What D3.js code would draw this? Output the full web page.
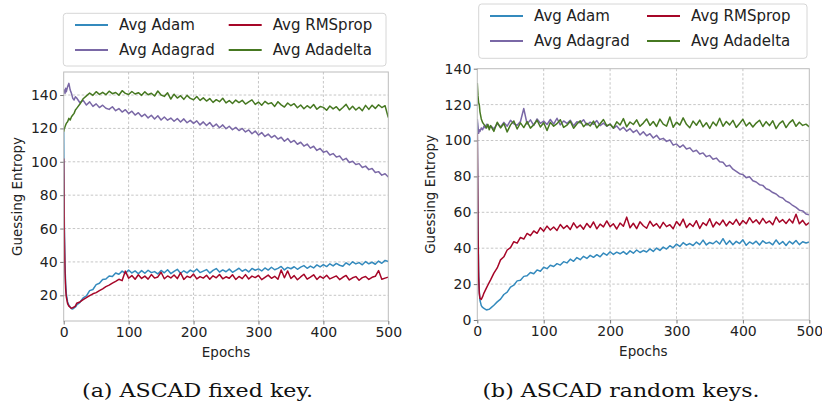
<!doctype html>
<html lang="en">
<head>
<meta charset="UTF-8">
<script src="https://cdnjs.cloudflare.com/ajax/libs/d3/7.8.5/d3.min.js"></script>
<title>Guessing entropy</title>
<style>
  body { margin: 0; background: #fff; }
  svg { display: block; font-family: "DejaVu Sans", sans-serif; }
</style>
</head>
<body>
<div id="viz_area"></div>
<script>
// legend order (column-wise, like matplotlib ncol=2): Adam, Adagrad | RMSprop, Adadelta
const names = ['Avg Adam', 'Avg Adagrad', 'Avg RMSprop', 'Avg Adadelta'];
const colors = ['#348ABD', '#7A68A6', '#A60628', '#467821'];

// sampled epochs: dense at the start, then every 5
const epochs = [0, 1, 2, 3, 4, 6, 8, 10, 12, 14, 16, 18].concat(d3.range(20, 501, 5));

const xTicks = [0, 100, 200, 300, 400, 500];
const yTicksA = [20, 40, 60, 80, 100, 120, 140];
const yTicksB = [0, 20, 40, 60, 80, 100, 120, 140];

// (a) ASCAD fixed key
const aAdam = [118, 62, 38, 27, 21, 16, 14, 13, 12, 11.8, 12.4, 13,
  14.2, 15.8, 18.4, 19.6, 22.8, 23.5, 26.4, 27.2, 29.5, 29.8,
  31.6, 31.2, 33.4, 32.6, 34.5, 33.1, 35.2, 33.4, 34.6, 32.9,
  34.8, 33.2, 35.0, 33.6, 34.2, 32.8, 34.9, 33.5, 35.3, 33.0,
  34.4, 35.6, 33.2, 34.7, 33.4, 35.1, 34.0, 35.8, 33.6, 34.5,
  35.4, 33.3, 34.9, 36.0, 33.9, 35.2, 34.1, 35.7, 33.8, 35.0,
  36.2, 34.4, 35.5, 34.0, 36.1, 35.0, 35.8, 34.6, 36.4, 35.1,
  36.8, 35.3, 36.1, 37.3, 35.2, 36.7, 35.9, 37.1, 35.6, 36.9,
  37.8, 36.2, 37.5, 36.4, 38.2, 37.0, 38.4, 37.2, 38.9, 37.6,
  39.1, 38.0, 37.4, 39.5, 38.2, 40.1, 38.8, 39.6, 38.3, 40.2,
  38.9, 39.8, 38.6, 40.5, 39.2, 40.9, 40.3];
const aRms = [102, 55, 34, 24, 19, 15, 13.5, 12.8, 12.2, 12.6, 13, 13.5,
  15.2, 16.0, 17.4, 18.6, 19.8, 20.9, 21.6, 22.8, 23.9, 25.2,
  26.1, 27.3, 28.4, 29.6, 28.8, 34.5, 30.2, 31.8, 29.6, 32.3,
  30.1, 31.5, 29.7, 32.4, 30.3, 31.0, 33.8, 29.9, 31.6, 30.4,
  32.2, 30.0, 33.5, 29.5, 31.4, 30.6, 32.7, 29.8, 31.2, 30.3,
  32.0, 29.6, 31.7, 30.5, 32.5, 29.9, 31.1, 30.2, 32.3, 29.5,
  31.3, 30.0, 32.4, 29.8, 31.5, 30.6, 31.9, 29.4, 30.8, 32.1,
  30.2, 31.4, 29.6, 35.2, 30.5, 34.6, 30.1, 31.8, 29.3, 31.0,
  32.6, 29.7, 30.9, 32.3, 29.5, 31.4, 30.2, 32.0, 29.8, 30.7,
  31.6, 29.4, 30.8, 31.9, 29.2, 30.5, 31.2, 29.0, 30.6, 31.3,
  29.5, 30.8, 31.4, 34.8, 29.6, 30.3, 30.9];
const aAdagrad = [142, 143, 141, 144, 142, 145, 147, 143, 141, 138, 137, 139,
  138.2, 135.4, 136.8, 134.0, 135.9, 133.2, 134.7, 132.5, 133.9, 132.1,
  131.4, 133.0, 130.6, 131.9, 129.8, 131.2, 128.9, 130.3, 128.0, 129.4,
  127.1, 128.5, 126.3, 127.9, 125.6, 127.6, 125.0, 126.8, 124.9, 126.2,
  124.3, 125.9, 123.8, 125.7, 123.4, 124.8, 123.0, 124.5, 122.1, 123.9,
  121.7, 123.5, 121.0, 122.6, 120.4, 122.1, 119.8, 121.3, 119.2, 120.6,
  118.7, 120.0, 117.9, 119.1, 116.8, 118.4, 116.0, 117.5, 115.2, 116.6,
  114.5, 115.8, 113.6, 114.7, 112.3, 113.9, 111.6, 112.8, 110.5, 111.7,
  109.4, 110.6, 108.2, 109.3, 106.8, 108.0, 105.7, 106.4, 104.1, 104.9,
  102.8, 103.5, 101.0, 102.1, 99.6, 100.3, 98.4, 98.9, 96.6, 97.4,
  95.3, 96.0, 93.6, 94.1, 92.0, 92.8, 90.9];
const aAdadelta = [118, 120, 121, 122, 123, 124, 126, 125, 127, 128, 129, 131,
  132.0, 134.6, 137.8, 139.5, 141.2, 139.8, 142.0, 140.4, 141.6, 140.2,
  142.3, 140.8, 141.5, 139.9, 142.6, 141.0, 140.3, 142.1, 140.6, 141.4,
  139.8, 141.9, 140.2, 141.1, 139.4, 142.4, 140.0, 139.2, 141.3, 137.6,
  140.5, 138.2, 139.6, 137.4, 139.8, 138.0, 137.2, 139.1, 136.8, 138.3,
  136.4, 137.9, 135.6, 137.2, 136.0, 138.1, 135.3, 136.7, 134.9, 137.0,
  135.5, 136.8, 134.6, 135.9, 137.1, 134.4, 135.8, 133.9, 136.2, 134.7,
  135.4, 133.2, 136.0, 134.1, 132.8, 135.2, 133.6, 134.8, 132.4, 134.0,
  131.8, 133.6, 132.2, 134.3, 131.5, 133.1, 132.6, 130.9, 133.4, 131.7,
  133.0, 130.8, 132.5, 134.4, 131.2, 133.3, 131.0, 132.7, 130.6, 133.8,
  131.4, 133.9, 132.0, 134.2, 132.5, 133.6, 126.5];

// (b) ASCAD random keys
const bAdam = [110, 55, 28, 16, 11, 8, 7, 6.5, 6, 5.6, 5.8, 6,
  6.6, 8.2, 10.1, 11.6, 14.2, 15.5, 18.3, 19.4, 21.8, 22.1,
  24.3, 24.6, 26.5, 25.8, 27.9, 27.2, 29.4, 28.6, 30.5, 29.8,
  31.4, 30.6, 32.5, 31.8, 33.9, 32.7, 34.8, 33.6, 35.5, 34.3,
  36.0, 34.9, 36.4, 35.2, 37.3, 36.1, 38.0, 36.5, 37.8, 36.9,
  38.1, 36.6, 38.5, 37.2, 39.0, 37.6, 38.7, 37.9, 39.6, 38.2,
  40.1, 38.8, 40.6, 39.5, 41.4, 40.2, 42.3, 41.0, 43.1, 41.7,
  42.6, 41.5, 43.4, 42.0, 44.5, 41.8, 43.2, 42.5, 44.0, 42.3,
  45.3, 42.1, 44.2, 41.9, 43.8, 42.6, 44.7, 41.6, 43.5, 42.4,
  43.9, 41.8, 44.1, 42.7, 43.3, 41.9, 44.6, 42.2, 43.7, 41.5,
  43.8, 42.4, 44.3, 42.0, 43.6, 42.9, 43.5];
const bRms = [104, 50, 24, 15, 12, 11.5, 13, 15, 16.5, 18, 19.5, 21,
  22.4, 26.1, 29.0, 33.5, 35.2, 39.0, 40.3, 43.6, 42.8, 46.0,
  45.1, 48.2, 47.0, 49.6, 48.3, 51.4, 49.5, 52.3, 50.1, 51.8,
  49.9, 53.2, 51.0, 52.6, 50.4, 54.1, 51.3, 52.9, 50.6, 53.8,
  51.5, 54.6, 50.8, 53.4, 51.9, 55.2, 52.0, 53.6, 50.7, 54.0,
  52.2, 57.3, 51.4, 53.9, 50.9, 54.7, 52.5, 51.1, 55.0, 52.3,
  53.7, 51.2, 54.4, 52.0, 53.1, 50.8, 54.9, 52.6, 56.2, 51.5,
  53.8, 52.1, 55.3, 51.0, 54.2, 52.7, 56.4, 51.8, 54.6, 53.0,
  55.7, 52.4, 54.9, 53.3, 56.1, 52.8, 55.4, 53.6, 57.0, 54.2,
  55.8, 53.5, 56.6, 54.0, 55.2, 53.1, 57.4, 54.5, 55.9, 53.8,
  56.2, 54.1, 58.9, 53.6, 55.5, 52.9, 54.3];
const bAdagrad = [112, 108, 104, 106, 105, 107, 106, 108, 107, 109, 108, 107,
  108.2, 106.5, 109.4, 107.6, 110.1, 108.0, 111.2, 109.3, 108.5, 110.6,
  117.8, 109.2, 111.5, 108.4, 112.0, 109.6, 110.8, 108.9, 111.7, 109.1,
  112.4, 108.7, 110.9, 109.5, 111.3, 108.2, 110.4, 109.8, 111.6, 108.6,
  110.2, 109.0, 111.1, 108.3, 109.7, 107.9, 109.2, 106.8, 108.1, 105.9,
  107.4, 105.2, 106.6, 104.5, 105.8, 103.1, 104.9, 102.6, 103.8, 101.4,
  102.9, 100.6, 101.2, 99.5, 100.3, 97.4, 98.1, 96.2, 97.5, 95.3,
  95.9, 93.8, 94.6, 92.5, 93.1, 91.0, 91.7, 89.6, 90.2, 88.1,
  87.9, 85.6, 86.2, 84.0, 82.8, 81.5, 81.0, 79.3, 79.8, 77.6,
  76.9, 75.4, 75.0, 73.1, 72.4, 71.0, 70.2, 68.6, 68.0, 66.2,
  65.3, 63.8, 62.7, 61.2, 60.8, 59.1, 58.6];
const bAdadelta = [132, 125, 121, 120, 116, 112, 110, 109, 108, 107, 109, 106,
  108.3, 105.1, 110.2, 107.0, 109.5, 104.8, 108.7, 110.9, 106.4, 109.8,
  107.2, 110.5, 106.9, 108.8, 111.3, 107.5, 109.9, 105.6, 110.1, 108.0,
  109.4, 111.6, 107.3, 108.5, 110.7, 106.8, 109.2, 111.0, 107.7, 109.6,
  108.1, 110.8, 107.0, 109.3, 111.7, 108.2, 109.0, 106.9, 110.4, 108.6,
  112.2, 107.6, 110.3, 108.9, 111.5, 107.9, 109.7, 112.0, 108.4, 110.6,
  107.8, 111.9, 109.1, 108.0, 113.1, 107.4, 110.2, 108.6, 112.6, 109.0,
  107.1, 110.8, 108.5, 111.4, 107.6, 109.9, 106.7, 110.3, 108.2, 112.4,
  107.9, 110.6, 108.7, 111.2, 107.3, 109.5, 111.8, 108.1, 110.0, 107.5,
  109.7, 111.3, 107.8, 110.5, 108.3, 111.0, 106.6, 109.4, 110.9, 107.2,
  109.8, 111.5, 107.9, 110.2, 108.4, 109.1, 107.6];

const panels = [
  { id: 'a', caption: '(a) ASCAD fixed key.', series: [aAdam, aAdagrad, aRms, aAdadelta],
    yDomain: [4.6, 153.8], yTicks: yTicksA,
    box: { l: 63.7, r: 388.3, t: 72, b: 321 },
    legend: { x: 63.3, y: 13.3, w: 322.7, h: 52.7, r1: 25, r2: 50, c1: 75, c2: 228.7 },
    capX: 197.5, capW: 231 },
  { id: 'b', caption: '(b) ASCAD random keys.', series: [bAdam, bAdagrad, bRms, bAdadelta],
    yDomain: [0, 140], yTicks: yTicksB,
    box: { l: 477.3, r: 809.3, t: 68.7, b: 320 },
    legend: { x: 478.7, y: 4, w: 328.3, h: 54.3, r1: 16, r2: 41, c1: 490, c2: 647 },
    capX: 621, capW: 277 }
];

const W = 822, H = 405;
const svg = d3.select('#viz_area').append('svg')
  .attr('width', W).attr('height', H);

panels.forEach(function(p) {
  const b = p.box;
  const x = d3.scaleLinear().domain([0, 500]).range([b.l, b.r]);
  const y = d3.scaleLinear().domain(p.yDomain).range([b.b, b.t]);
  const g = svg.append('g');

  // grid
  g.append('g').selectAll('line').data(xTicks.slice(1, -1)).join('line')
    .attr('x1', d => x(d)).attr('x2', d => x(d))
    .attr('y1', b.t).attr('y2', b.b)
    .attr('stroke', '#b8b8b8').attr('stroke-width', 0.8).attr('stroke-dasharray', '2.5,2');
  g.append('g').selectAll('line').data(p.yTicks.filter(d => y(d) > b.t + 1 && y(d) < b.b - 1)).join('line')
    .attr('x1', b.l).attr('x2', b.r)
    .attr('y1', d => y(d)).attr('y2', d => y(d))
    .attr('stroke', '#b8b8b8').attr('stroke-width', 0.8).attr('stroke-dasharray', '2.5,2');

  // lines
  g.append('clipPath').attr('id', 'clip-' + p.id)
    .append('rect').attr('x', b.l).attr('y', b.t).attr('width', b.r - b.l).attr('height', b.b - b.t);
  const line = d3.line().x((d, i) => x(epochs[i])).y(d => y(d));
  g.append('g').attr('clip-path', 'url(#clip-' + p.id + ')')
    .selectAll('path').data(p.series).join('path')
    .attr('d', d => line(d))
    .attr('fill', 'none')
    .attr('stroke', (d, i) => colors[i])
    .attr('stroke-width', 1.5)
    .attr('stroke-linejoin', 'round');

  // frame
  g.append('rect').attr('x', b.l).attr('y', b.t)
    .attr('width', b.r - b.l).attr('height', b.b - b.t)
    .attr('fill', 'none').attr('stroke', '#bcbcbc').attr('stroke-width', 1);

  // axes
  const xa = g.append('g').attr('transform', 'translate(0,' + b.b + ')')
    .call(d3.axisBottom(x).tickValues(xTicks).tickSize(3.5).tickPadding(3));
  const ya = g.append('g').attr('transform', 'translate(' + b.l + ',0)')
    .call(d3.axisLeft(y).tickValues(p.yTicks).tickSize(3.5).tickPadding(2.5));
  [xa, ya].forEach(function(a) {
    a.select('.domain').remove();
    a.selectAll('.tick line').attr('stroke', '#777');
    a.selectAll('.tick text').attr('fill', '#222').style('font-size', '14px')
      .style('font-family', '"DejaVu Sans", sans-serif');
  });

  g.append('text').attr('x', (b.l + b.r) / 2).attr('y', b.b + 36)
    .attr('text-anchor', 'middle').style('font-size', '13.5px').attr('fill', '#222')
    .text('Epochs');
  g.append('text')
    .attr('transform', 'translate(' + (b.l - 42) + ',' + ((b.t + b.b) / 2) + ') rotate(-90)')
    .attr('text-anchor', 'middle').style('font-size', '13.5px').attr('fill', '#222')
    .text('Guessing Entropy');

  // legend
  const L = p.legend;
  const lg = g.append('g');
  lg.append('rect').attr('x', L.x).attr('y', L.y).attr('width', L.w).attr('height', L.h)
    .attr('rx', 3).attr('fill', '#fff').attr('fill-opacity', 0.8)
    .attr('stroke', '#d6d6d6').attr('stroke-width', 1);
  names.forEach(function(n, i) {
    const cx = i < 2 ? L.c1 : L.c2;
    const cy = i % 2 === 0 ? L.r1 : L.r2;
    lg.append('line').attr('x1', cx).attr('x2', cx + 33).attr('y1', cy).attr('y2', cy)
      .attr('stroke', colors[i]).attr('stroke-width', 2);
    lg.append('text').attr('x', cx + 44).attr('y', cy).attr('dy', '0.35em')
      .style('font-size', '15px').attr('fill', '#222').text(n);
  });

  // caption
  svg.append('text').attr('x', p.capX).attr('y', 397)
    .attr('text-anchor', 'middle')
    .attr('textLength', p.capW).attr('lengthAdjust', 'spacingAndGlyphs')
    .style('font-family', '"DejaVu Serif", "Liberation Serif", serif')
    .style('font-size', '18.5px').attr('fill', '#111')
    .text(p.caption);
});
</script>
</body>
</html>
